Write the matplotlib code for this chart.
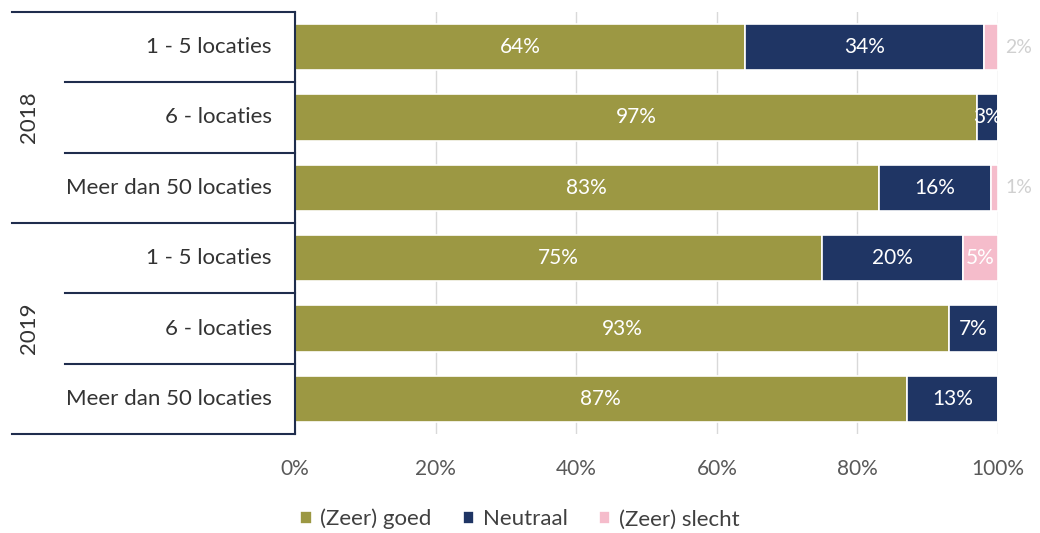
import numpy as np
import matplotlib.pyplot as plt
from matplotlib import transforms

# data
years = ["2018", "2019"]
groups = ["1 - 5 locaties", "6 - locaties", "Meer dan 50 locaties"]
goed = [64, 97, 83, 75, 93, 87]
neutraal = [34, 3, 16, 20, 7, 13]
slecht = [2, 0, 1, 5, 0, 0]
series_names = ["(Zeer) goed", "Neutraal", "(Zeer) slecht"]
xticks = [0, 20, 40, 60, 80, 100]

colors = ["#9c9843", "#1f3564", "#f5bccb"]
plt.rcParams['font.family'] = ['Lato', 'DejaVu Sans']

fig = plt.figure(figsize=(10.4, 5.33), dpi=100)
ax = fig.add_axes([0.2837, 0.1857, 0.6760, 0.7918])

n = len(goed)
y = np.arange(n)
left = np.zeros(n)
for vals, col, name in zip([goed, neutraal, slecht], colors, series_names):
    vals = np.array(vals, dtype=float)
    ax.barh(y, vals, left=left, height=0.66, color=col,
            edgecolor="white", linewidth=1.2, label=name)
    for yi, (l, v) in enumerate(zip(left, vals)):
        if v <= 0:
            continue
        txt = f"{int(v)}%"
        if col == colors[2] and v < 3:
            ax.text(l + v + 1.0, yi, txt, ha="left", va="center",
                    fontsize=14, color="#d0d0d0", clip_on=False)
        else:
            ax.text(l + v / 2, yi, txt, ha="center", va="center",
                    fontsize=15, color="white")
    left += vals

ax.set_xlim(0, 100)
ax.set_ylim(n - 0.5, -0.5)
ax.set_xticks(xticks)
ax.set_xticklabels([f"{t}%" for t in xticks], fontsize=15, color="#595959")
ax.tick_params(axis="x", length=0, pad=18)
ax.set_yticks([])
ax.xaxis.grid(True, color="#d9d9d9", linewidth=1)
ax.set_axisbelow(True)
for s in ["top", "right", "bottom"]:
    ax.spines[s].set_visible(False)
ax.spines["left"].set_color("#1f2d4d")
ax.spines["left"].set_linewidth(1.5)

# left side category structure
trans = transforms.blended_transform_factory(ax.transAxes, ax.transData)
x_full, x_inner = -0.403, -0.327
for i in range(n + 1):
    yb = i - 0.5
    xs = x_full if i % 3 == 0 else x_inner
    ax.plot([xs, 0], [yb, yb], transform=trans, color="#1f2d4d",
            linewidth=1.5, clip_on=False)
for i, g in enumerate(groups * len(years)):
    ax.text(-0.033, i, g, transform=trans, ha="right", va="center",
            fontsize=16, color="#333333")
for k, yr in enumerate(years):
    ax.text(-0.378, k * 3 + 1, yr, transform=trans, ha="center", va="center",
            rotation=90, fontsize=16, color="#333333")

ax.legend(loc="center", bbox_to_anchor=(0.5, 0.026),
          bbox_transform=fig.transFigure, ncol=3, frameon=False,
          fontsize=16, handlelength=0.5, handleheight=0.5,
          handletextpad=0.4, columnspacing=1.4, labelcolor="#404040")

fig.savefig("out.png", dpi=100)
